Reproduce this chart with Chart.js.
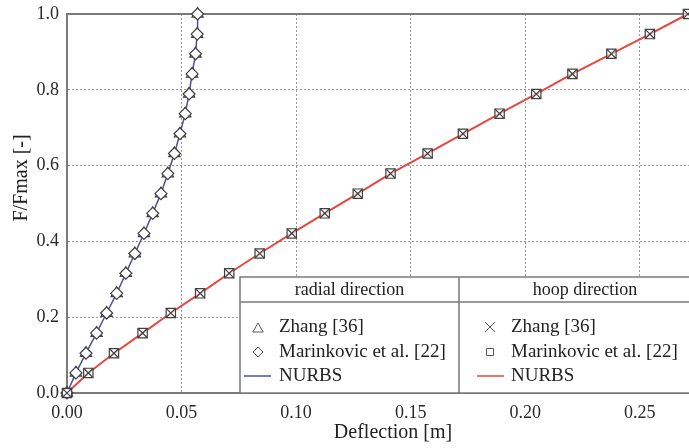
<!DOCTYPE html>
<html>
<head>
<meta charset="utf-8">
<script src="https://cdn.jsdelivr.net/npm/chart.js@4.4.1/dist/chart.umd.min.js"></script>
<style>
  body { margin: 0; overflow: hidden; background: #fff; }
  #wrap { width: 720px; height: 448px; }
</style>
</head>
<body>
<div id="wrap"><canvas id="mychart" width="720" height="448"></canvas></div>
<script>
'use strict'

// data

// F/Fmax at each load step
let loadSteps = [0.000, 0.053, 0.105, 0.158, 0.211, 0.263, 0.316, 0.368, 0.421, 0.474,
  0.526, 0.579, 0.632, 0.684, 0.737, 0.789, 0.842, 0.895, 0.947, 1.000];

// radial direction deflection [m]
let radialZhang = [0.0000, 0.0039, 0.0083, 0.0129, 0.0173, 0.0217, 0.0257, 0.0296, 0.0336, 0.0374,
  0.0410, 0.0440, 0.0469, 0.0493, 0.0516, 0.0533, 0.0546, 0.0561, 0.0568, 0.0570];
let radialMarinkovic = [0.0000, 0.0039, 0.0083, 0.0129, 0.0173, 0.0217, 0.0257, 0.0296, 0.0336, 0.0374,
  0.0410, 0.0440, 0.0469, 0.0493, 0.0516, 0.0533, 0.0546, 0.0561, 0.0568, 0.0570];
let radialNurbs = [0.0000, 0.0039, 0.0083, 0.0129, 0.0173, 0.0217, 0.0257, 0.0296, 0.0336, 0.0374,
  0.0410, 0.0440, 0.0469, 0.0493, 0.0516, 0.0533, 0.0546, 0.0561, 0.0568, 0.0570];

// hoop direction deflection [m]
let hoopZhang = [0.0000, 0.0093, 0.0205, 0.0330, 0.0453, 0.0581, 0.0708, 0.0841, 0.0981, 0.1125,
  0.1269, 0.1412, 0.1574, 0.1728, 0.1888, 0.2048, 0.2206, 0.2376, 0.2544, 0.2710];
let hoopMarinkovic = [0.0000, 0.0093, 0.0205, 0.0330, 0.0453, 0.0581, 0.0708, 0.0841, 0.0981, 0.1125,
  0.1269, 0.1412, 0.1574, 0.1728, 0.1888, 0.2048, 0.2206, 0.2376, 0.2544, 0.2710];
let hoopNurbs = [0.0000, 0.0093, 0.0205, 0.0330, 0.0453, 0.0581, 0.0708, 0.0841, 0.0981, 0.1125,
  0.1269, 0.1412, 0.1574, 0.1728, 0.1888, 0.2048, 0.2206, 0.2376, 0.2544, 0.2710];

// tick labels
let xTicks = [0.00, 0.05, 0.10, 0.15, 0.20, 0.25];
let yTicks = [0.0, 0.2, 0.4, 0.6, 0.8, 1.0];

let xTitle = 'Deflection [m]';
let yTitle = 'F/Fmax [-]';
let legendHeaders = ['radial direction', 'hoop direction'];
let legendLabels = ['Zhang [36]', 'Marinkovic et al. [22]', 'NURBS'];


// helpers

function toPoints(xs) {
  let pts = [];
  for (let i = 0; i < xs.length; i++) {
    pts.push({ x: xs[i], y: loadSteps[i] });
  }
  return pts;
}

const serif = 'Liberation Serif';
const blueLine = '#50509a';
const redLine = '#e5473c';
const markGrey = '#404040';
const frameGrey = '#7a7a7a';

function drawMark(ctx, style, x, y, r) {
  ctx.save();
  ctx.strokeStyle = '#555';
  ctx.fillStyle = '#fff';
  ctx.lineWidth = 1;
  ctx.beginPath();
  if (style === 'triangle') {
    ctx.moveTo(x, y - r);
    ctx.lineTo(x + r * 0.866, y + r * 0.5);
    ctx.lineTo(x - r * 0.866, y + r * 0.5);
    ctx.closePath();
    ctx.fill();
  } else if (style === 'diamond') {
    ctx.moveTo(x, y - r);
    ctx.lineTo(x + r, y);
    ctx.lineTo(x, y + r);
    ctx.lineTo(x - r, y);
    ctx.closePath();
    ctx.fill();
  } else if (style === 'cross') {
    ctx.moveTo(x - r, y - r);
    ctx.lineTo(x + r, y + r);
    ctx.moveTo(x + r, y - r);
    ctx.lineTo(x - r, y + r);
  } else if (style === 'square') {
    ctx.rect(x - r, y - r, 2 * r, 2 * r);
    ctx.fill();
  }
  ctx.stroke();
  ctx.restore();
}

// frame, titles and the two column legend

let decorPlugin = {
  id: 'decor',
  beforeDatasetsDraw(chart) {
    let ctx = chart.ctx;
    let a = chart.chartArea;
    ctx.save();
    ctx.strokeStyle = frameGrey;
    ctx.lineWidth = 2;
    ctx.beginPath();
    ctx.moveTo(a.left, a.top);
    ctx.lineTo(a.right, a.top);
    ctx.stroke();
    ctx.restore();
  },
  afterDatasetsDraw(chart) {
    let ctx = chart.ctx;

    // legend box
    let left = 240, top = 277, right = 711, bottom = 393, mid = 459, head = 302;
    ctx.save();
    ctx.fillStyle = '#fff';
    ctx.fillRect(left, top, right - left, bottom - top);
    ctx.strokeStyle = frameGrey;
    ctx.lineWidth = 1.5;
    ctx.strokeRect(left, top, right - left, bottom - top);
    ctx.beginPath();
    ctx.moveTo(left, head);
    ctx.lineTo(right, head);
    ctx.moveTo(mid, top);
    ctx.lineTo(mid, bottom);
    ctx.stroke();

    ctx.fillStyle = '#222';
    ctx.font = '18px "' + serif + '"';
    ctx.textBaseline = 'middle';
    ctx.textAlign = 'center';
    ctx.fillText(legendHeaders[0], (left + mid) / 2, 290);
    ctx.fillText(legendHeaders[1], (mid + right) / 2, 290);

    ctx.font = '19px "' + serif + '"';
    ctx.textAlign = 'left';
    let rows = [327, 352, 376];
    for (let i = 0; i < legendLabels.length; i++) {
      ctx.fillText(legendLabels[i], 279, rows[i]);
      ctx.fillText(legendLabels[i], 511, rows[i]);
    }
    ctx.restore();

    drawMark(ctx, 'triangle', 258, 329, 6);
    drawMark(ctx, 'diamond', 258, 352, 5);
    drawMark(ctx, 'cross', 490, 327, 5);
    drawMark(ctx, 'square', 490, 352, 3.5);

    ctx.save();
    ctx.lineWidth = 1.5;
    ctx.strokeStyle = blueLine;
    ctx.beginPath();
    ctx.moveTo(244, 376);
    ctx.lineTo(271, 376);
    ctx.stroke();
    ctx.strokeStyle = redLine;
    ctx.beginPath();
    ctx.moveTo(477, 376);
    ctx.lineTo(504, 376);
    ctx.stroke();

    // axis titles
    ctx.fillStyle = '#222';
    ctx.font = '20px "' + serif + '"';
    ctx.textAlign = 'center';
    ctx.textBaseline = 'middle';
    ctx.fillText(xTitle, 393, 433);
    ctx.translate(22, 178);
    ctx.rotate(-Math.PI / 2);
    ctx.fillText(yTitle, 0, 0);
    ctx.restore();
  }
};


function gridColor(c) {
  let v = c.tick ? c.tick.value : null;
  if (v === 0 || v === 1) {
    return 'rgba(0,0,0,0)';
  }
  return '#9a9a9a';
}

let ctxWindow = document.getElementById('mychart');

let markBase = { showLine: false, clip: false, borderWidth: 1.2, borderColor: markGrey, pointHoverRadius: 6 };

let myObj = {
  type: 'scatter',
  data: {
    datasets: [
      Object.assign({ label: 'radial Zhang', data: toPoints(radialZhang), pointStyle: 'triangle',
        pointRadius: 6.5, backgroundColor: '#fff', order: 4 }, markBase),
      Object.assign({ label: 'radial Marinkovic', data: toPoints(radialMarinkovic), pointStyle: 'rectRot',
        pointRadius: 6, backgroundColor: '#fff', order: 3 }, markBase),
      Object.assign({ label: 'hoop Marinkovic', data: toPoints(hoopMarinkovic), pointStyle: 'rect',
        pointRadius: 6.6, backgroundColor: 'rgba(255,255,255,0.6)', order: 2 }, markBase),
      Object.assign({ label: 'hoop Zhang', data: toPoints(hoopZhang), pointStyle: 'crossRot',
        pointRadius: 6.6, backgroundColor: 'rgba(0,0,0,0)', order: 1 }, markBase),
      {
        label: 'radial NURBS', data: toPoints(radialNurbs), showLine: true, pointRadius: 0,
        borderColor: blueLine, borderWidth: 1.5, tension: 0, clip: false, order: 6
      },
      {
        label: 'hoop NURBS', data: toPoints(hoopNurbs), showLine: true, pointRadius: 0,
        borderColor: redLine, borderWidth: 2, tension: 0, clip: false, order: 5
      }
    ]
  },
  options: {
    responsive: false,
    animation: false,
    devicePixelRatio: 1,
    layout: { autoPadding: false, padding: { top: 14, left: 0, right: 0, bottom: 0 } },
    plugins: {
      legend: { display: false },
      tooltip: { enabled: false }
    },
    scales: {
      x: {
        type: 'linear',
        min: 0,
        max: 0.285,
        afterBuildTicks(scale) {
          scale.ticks = xTicks.map(v => ({ value: v }));
        },
        afterFit(scale) {
          scale.height = 55;
          scale.paddingLeft = 0;
          scale.paddingRight = 0;
        },
        ticks: {
          padding: 9,
          color: '#2a2a2a',
          font: { family: serif, size: 18 },
          callback: v => v.toFixed(2)
        },
        grid: { color: gridColor, lineWidth: 1, drawTicks: false },
        border: { display: true, color: frameGrey, width: 2, dash: [2, 2] }
      },
      y: {
        min: 0,
        max: 1,
        afterBuildTicks(scale) {
          scale.ticks = yTicks.map(v => ({ value: v }));
        },
        afterFit(scale) {
          scale.width = 67;
          scale.paddingTop = 0;
          scale.paddingBottom = 0;
        },
        ticks: {
          padding: 8,
          color: '#2a2a2a',
          font: { family: serif, size: 18 },
          callback: v => v.toFixed(1)
        },
        grid: { color: gridColor, lineWidth: 1, drawTicks: false },
        border: { display: true, color: frameGrey, width: 2, dash: [2, 2] }
      }
    }
  },
  plugins: [decorPlugin]
};

const myChart = new Chart(ctxWindow, myObj);
</script>
</body>
</html>
